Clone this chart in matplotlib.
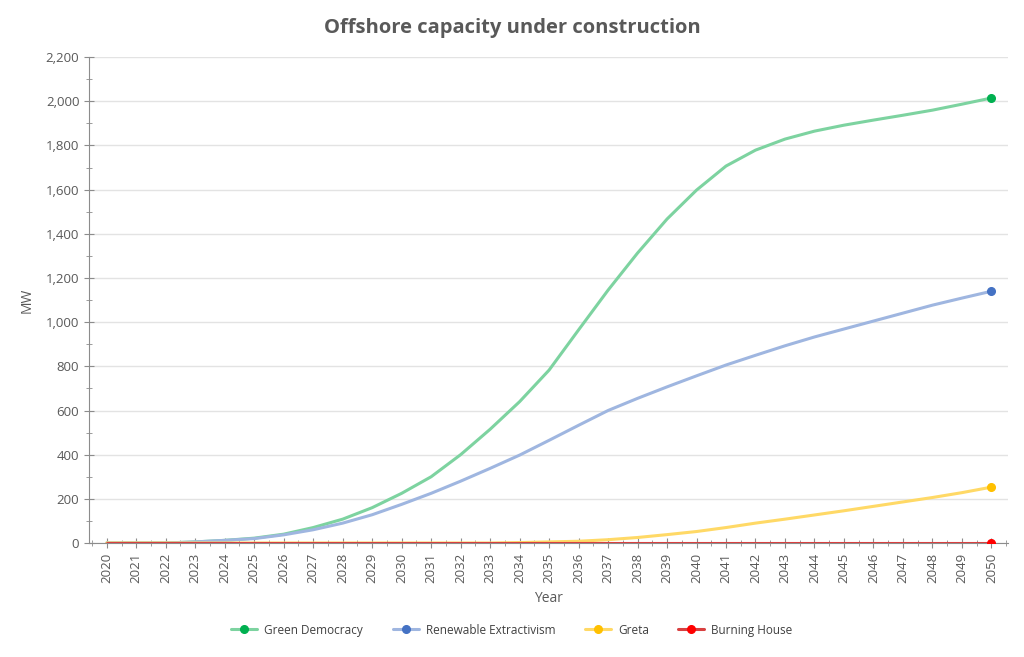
import numpy as np
import matplotlib
matplotlib.use("Agg")
from matplotlib import pyplot as plt
from matplotlib.legend_handler import HandlerLine2D
from matplotlib.ticker import MultipleLocator, FuncFormatter

plt.rcParams['font.family'] = ['Open Sans', 'DejaVu Sans']

years = list(range(2020, 2051))

green_democracy = [0, 0, 0, 5, 12, 22, 40, 70, 108, 160, 225, 300, 400, 515, 640, 783,
                   965, 1145, 1313, 1467, 1598, 1707, 1779, 1829, 1865, 1892, 1915,
                   1937, 1960, 1987, 2015]
renewable_extractivism = [0, 0, 0, 5, 12, 20, 37, 60, 90, 128, 175, 225, 280, 338, 398,
                          465, 533, 600, 655, 707, 757, 806, 850, 893, 933, 969, 1005,
                          1041, 1077, 1109, 1140]
greta = [0, 0, 0, 0, 0, 0, 0, 0, 0, 0, 0, 0, 0, 0, 2, 5, 8, 15, 25, 38, 52, 70, 90,
         108, 127, 146, 166, 186, 206, 228, 253]
burning_house = [0] * 31

series = [
    ("Green Democracy", green_democracy, "#7dd3a0", "#00b050"),
    ("Renewable Extractivism", renewable_extractivism, "#9fb6e0", "#4472c4"),
    ("Greta", greta, "#ffd966", "#ffc000"),
    ("Burning House", burning_house, "#d84040", "#ff0000"),
]


class EndMarker(HandlerLine2D):
    # legend handle with the dot at the right end of the line
    def get_xdata(self, legend, xdescent, ydescent, width, height, fontsize):
        xdata = np.array([-xdescent, -xdescent + width])
        return xdata, np.array([-xdescent + width])


grey = "#595959"
fig = plt.figure(figsize=(10.24, 6.57), dpi=100)
ax = fig.add_axes([0.087, 0.1735, 0.897, 0.7395])

handles = []
for name, vals, lc, mc in series:
    ln, = ax.plot(years, vals, color=lc, lw=2.2, marker="o", markevery=[len(vals) - 1],
                  markersize=5.5, markerfacecolor=mc, markeredgecolor=mc, label=name,
                  solid_capstyle="round", zorder=3)
    handles.append(ln)

ax.set_xlim(2019.4, 2050.55)
ax.set_ylim(0, 2200)
ax.yaxis.set_major_locator(MultipleLocator(200))
ax.yaxis.set_minor_locator(MultipleLocator(100))
ax.xaxis.set_major_locator(MultipleLocator(1))
ax.xaxis.set_minor_locator(MultipleLocator(0.5))
ax.yaxis.set_major_formatter(FuncFormatter(lambda v, p: f"{int(v):,}"))
ax.set_xticks(years)
ax.set_xticklabels([str(y) for y in years], rotation=90)

ax.grid(axis="y", color="#e3e3e3", lw=1)
ax.set_axisbelow(True)
for s in ["top", "right"]:
    ax.spines[s].set_visible(False)
for s in ["left", "bottom"]:
    ax.spines[s].set_color("#8c8c8c")
ax.tick_params(axis="both", which="both", colors="#8c8c8c", labelcolor=grey,
               labelsize=9.5, direction="inout")
ax.tick_params(which="major", length=7)
ax.tick_params(which="minor", length=4)

ax.set_xlabel("Year", color=grey, fontsize=10, labelpad=6)
ax.set_ylabel("MW", color=grey, fontsize=10, labelpad=8)
fig.text(0.5, 0.958, "Offshore capacity under construction", ha="center", va="center",
         fontsize=14.5, fontweight="bold", color=grey)

fig.legend(handles=handles, loc="center", bbox_to_anchor=(0.5, 0.041), ncol=4,
           frameon=False, fontsize=8.5, labelcolor="#404040", handlelength=2.2,
           columnspacing=2.5, handletextpad=0.6,
           handler_map={h: EndMarker() for h in handles})

fig.savefig("out.png", dpi=100)
